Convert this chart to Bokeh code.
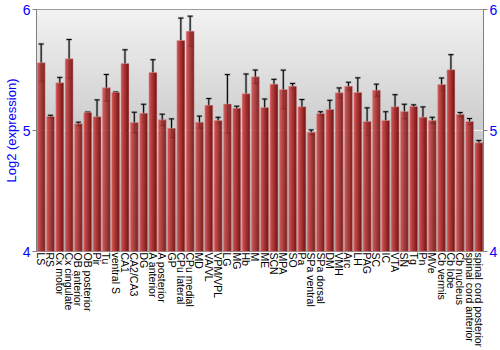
from bokeh.plotting import figure
from bokeh.models import (ColumnDataSource, Range1d, LinearAxis, FixedTicker,
                          Whisker, TeeHead, BoxAnnotation)
from bokeh.transform import dodge
from bokeh.embed import file_html
from bokeh.resources import INLINE

categories = ["LS", "RS", "Cx motor", "Cx cingulate", "OB anterior", "OB posterior",
              "Pir", "Tu", "ventral S", "CA1", "CA2/CA3", "DG", "A anterior",
              "A posterior", "GP", "CPu lateral", "CPu medial", "MD", "VA/VL",
              "VPM/VPL", "LG", "MG", "Hb", "M", "ME", "SCN", "MPA", "SO", "Pa",
              "SPa ventral", "SPa dorsal", "DM", "VMH", "Arc", "LH", "PAG", "SC",
              "IC", "VTA", "SN", "Tg", "Pn", "MVe", "Cb vermis", "Cb lobe",
              "Cb nucleus", "spinal cord anterior", "spinal cord posterior"]
values = [5.56, 5.116, 5.394, 5.592, 5.055, 5.149, 5.113, 5.353, 5.314, 5.554,
          5.066, 5.143, 5.479, 5.088, 5.019, 5.744, 5.821, 5.069, 5.209, 5.083,
          5.220, 5.184, 5.303, 5.444, 5.190, 5.383, 5.339, 5.366, 5.196, 4.985,
          5.140, 5.174, 5.311, 5.366, 5.314, 5.074, 5.333, 5.083, 5.196, 5.157,
          5.198, 5.110, 5.083, 5.380, 5.502, 5.132, 5.074, 4.898]
errors = [0.155, 0.01, 0.045, 0.16, 0.014, 0.003, 0.14, 0.11, 0.004, 0.113,
          0.085, 0.074, 0.106, 0.047, 0.077, 0.185, 0.124, 0.05, 0.055, 0.026,
          0.242, 0.017, 0.164, 0.056, 0.07, 0.04, 0.16, 0.023, 0.06, 0.02,
          0.015, 0.076, 0.041, 0.033, 0.121, 0.113, 0.05, 0.072, 0.10, 0.06,
          0.014, 0.085, 0.026, 0.054, 0.125, 0.017, 0.025, 0.02]
y_ticks = [4, 5, 6]
y_min, y_max = 4, 6

src = ColumnDataSource(dict(
    cat=categories, val=values,
    upper=[v + e for v, e in zip(values, errors)],
    lower=[v - e for v, e in zip(values, errors)],
))

p = figure(width=500, height=350, x_range=categories, y_range=Range1d(y_min, y_max),
           output_backend="svg", toolbar_location=None,
           min_border_top=9, min_border_left=27, min_border_right=13,
           min_border_bottom=99)
p.background_fill_color = "#b0b0b0"
p.border_fill_color = "white"
p.outline_line_color = "#808080"

# vertical gradient background
n_strips = 60
def lerp(a, b, t):
    return int(round(a + (b - a) * t))
for i in range(n_strips):
    t = i / (n_strips - 1)
    g = lerp(0xf2, 0xa6, t)
    col = "#%02x%02x%02x" % (g, g, g)
    top = y_max - (y_max - y_min) * i / n_strips
    bot = y_max - (y_max - y_min) * (i + 1) / n_strips - 0.01
    p.add_layout(BoxAnnotation(top=top, bottom=bot, fill_color=col, fill_alpha=1,
                               line_alpha=0, level="image"))

# bars with horizontal shading
bar_w = 0.86
n_sub = 8
light = (0xd0, 0x50, 0x50)
dark = (0x78, 0x14, 0x14)
sw = bar_w / n_sub
for k in range(n_sub):
    t = k / (n_sub - 1)
    col = "#%02x%02x%02x" % tuple(lerp(a, b, t) for a, b in zip(light, dark))
    off = -bar_w / 2 + sw * (k + 0.5)
    w = sw * 1.35 if k < n_sub - 1 else sw
    p.vbar(x=dodge("cat", off + (w - sw) / 2, range=p.x_range), top="val", bottom=y_min,
           width=w, source=src, fill_color=col, line_color=None)
p.vbar(x="cat", top="val", bottom=y_min, width=bar_w, source=src,
       fill_color=None, line_color="#e0a8a8", line_alpha=0.45, line_width=1)

# error bars
p.add_layout(Whisker(base="cat", upper="upper", lower="lower", source=src,
                     line_color="#777777", line_alpha=0.5, line_width=2.5,
                     upper_head=TeeHead(size=6, line_color="#888888", line_alpha=0.5, line_width=2.5),
                     lower_head=TeeHead(size=6, line_color="#888888", line_alpha=0.5, line_width=2.5)))
p.add_layout(Whisker(base="cat", upper="upper", lower="lower", source=src,
                     line_color="black", line_width=1,
                     upper_head=TeeHead(size=5, line_color="black", line_width=1),
                     lower_head=TeeHead(size=5, line_color="black", line_width=1)))

# grid
p.xgrid.grid_line_color = None
p.ygrid.ticker = FixedTicker(ticks=y_ticks)
p.ygrid.grid_line_color = "white"
p.ygrid.grid_line_alpha = 0.8

# left axis
ya = p.yaxis[0]
ya.ticker = FixedTicker(ticks=y_ticks)
ya.axis_label = "Log2 (expression)"
ya.axis_label_text_color = "blue"
ya.axis_label_text_font = "Liberation Sans"
ya.axis_label_text_font_size = "13px"
ya.axis_label_text_font_style = "normal"
ya.axis_label_standoff = 1
ya.major_label_text_color = "blue"
ya.major_label_text_font = "Liberation Sans"
ya.major_label_text_font_size = "14px"
ya.major_label_standoff = 2
ya.axis_line_color = "#808080"
ya.major_tick_line_color = "#808080"
ya.major_tick_out = 4
ya.major_tick_in = 0
ya.minor_tick_line_color = None

# right axis
ra = LinearAxis(ticker=FixedTicker(ticks=y_ticks), axis_label=None)
ra.major_label_text_color = "blue"
ra.major_label_text_font = "Liberation Sans"
ra.major_label_text_font_size = "14px"
ra.major_label_standoff = 2
ra.axis_label_standoff = 0
ra.axis_line_color = "#808080"
ra.major_tick_line_color = "#808080"
ra.major_tick_out = 4
ra.major_tick_in = 0
ra.minor_tick_line_color = None
p.add_layout(ra, "right")

# bottom axis
xa = p.xaxis[0]
xa.axis_label = None
xa.axis_label_standoff = 0
xa.major_label_orientation = "vertical"
xa.major_label_text_font = "Liberation Sans"
xa.major_label_text_font_size = "10.5px"
xa.major_label_text_color = "black"
xa.major_label_standoff = 1
xa.axis_line_color = None
xa.major_tick_line_color = None
xa.major_tick_out = 0
xa.major_tick_in = 0
xa.minor_tick_line_color = None

open("out.html", "w").write(file_html(p, INLINE))
